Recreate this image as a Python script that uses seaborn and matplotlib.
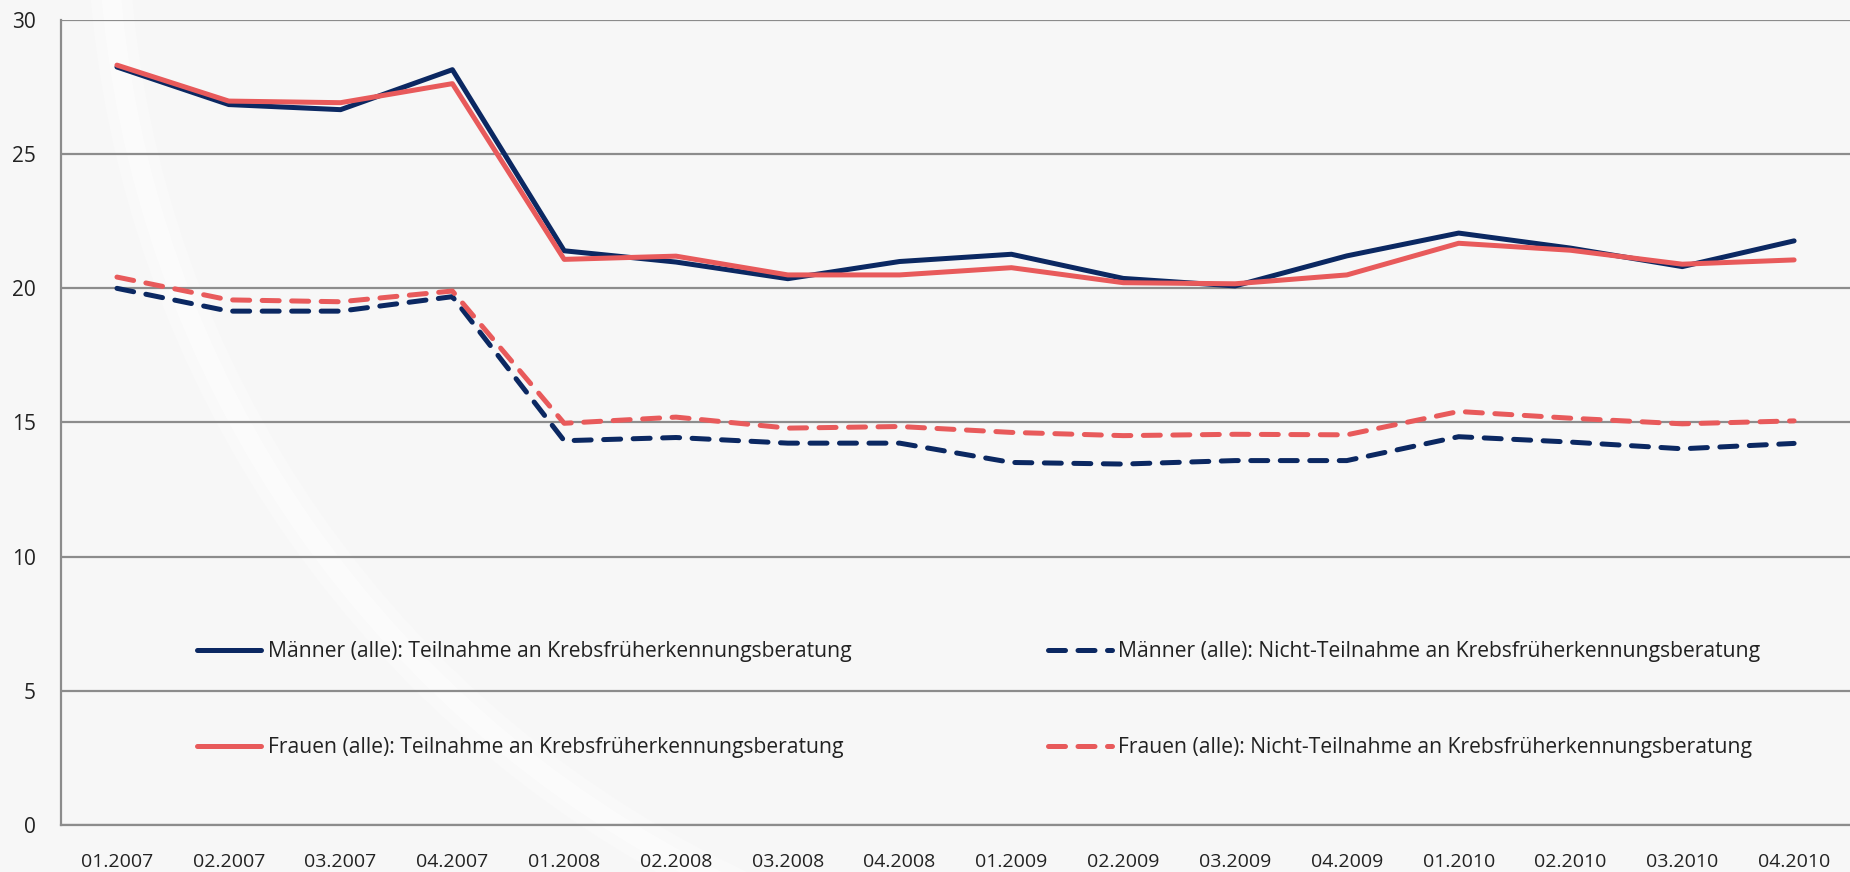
import matplotlib
matplotlib.use("Agg")
import matplotlib.pyplot as plt
from matplotlib.patches import Arc
import numpy as np
import pandas as pd
import seaborn as sns


QUARTERS = [
    "01.2007", "02.2007", "03.2007", "04.2007",
    "01.2008", "02.2008", "03.2008", "04.2008",
    "01.2009", "02.2009", "03.2009", "04.2009",
    "01.2010", "02.2010", "03.2010", "04.2010",
]

MEN_YES = [28.25, 26.85, 26.66, 28.15, 21.4, 20.98, 20.36, 21.0,
           21.27, 20.37, 20.09, 21.21, 22.06, 21.5, 20.81, 21.77]
WOMEN_YES = [28.32, 26.98, 26.92, 27.63, 21.08, 21.2, 20.5, 20.5,
             20.77, 20.21, 20.17, 20.5, 21.68, 21.42, 20.9, 21.06]
MEN_NO = [20.0, 19.15, 19.15, 19.69, 14.32, 14.44, 14.23, 14.23,
          13.51, 13.45, 13.58, 13.58, 14.47, 14.27, 14.02, 14.22]
WOMEN_NO = [20.42, 19.57, 19.5, 19.9, 14.97, 15.2, 14.79, 14.85,
            14.63, 14.51, 14.56, 14.54, 15.41, 15.16, 14.95, 15.06]

LABELS = [
    "Männer (alle): Teilnahme an Krebsfrüherkennungsberatung",
    "Frauen (alle): Teilnahme an Krebsfrüherkennungsberatung",
    "Männer (alle): Nicht-Teilnahme an Krebsfrüherkennungsberatung",
    "Frauen (alle): Nicht-Teilnahme an Krebsfrüherkennungsberatung",
]

NAVY = "#0b2862"
RED = "#e85a5b"
BG = "#f7f7f7"
GRID = "#8c8c8c"


def main() -> None:
    sns.set_theme(style="white")
    plt.rcParams["font.family"] = ["Open Sans", "DejaVu Sans"]

    series = [MEN_YES, WOMEN_YES, MEN_NO, WOMEN_NO]
    frames = []
    for label, values in zip(LABELS, series):
        frames.append(pd.DataFrame({"idx": np.arange(len(QUARTERS)), "value": values, "series": label}))
    df = pd.concat(frames, ignore_index=True)

    palette = {LABELS[0]: NAVY, LABELS[1]: RED, LABELS[2]: NAVY, LABELS[3]: RED}
    dashes = {LABELS[0]: "", LABELS[1]: "", LABELS[2]: (3.4, 2.5), LABELS[3]: (3.4, 2.5)}

    fig = plt.figure(figsize=(18.5, 8.72), dpi=100)
    fig.patch.set_facecolor(BG)

    # faint light swoosh in the background of the original slide (pixel coords)
    for lw, alpha in [(30, 0.25), (14, 0.45)]:
        swoosh = Arc((1200, 972), 2186, 2186, theta1=184, theta2=246, transform=None,
                     edgecolor="white", linewidth=lw, alpha=alpha, zorder=-5)
        fig.patches.append(swoosh)

    ax = fig.add_axes([0.033, 0.054, 0.967, 0.923])
    ax.set_facecolor("none")
    ax.set_zorder(1)

    sns.lineplot(
        data=df, x="idx", y="value", hue="series", style="series",
        palette=palette, dashes=dashes, linewidth=3.6, ax=ax,
        legend=False, solid_capstyle="round", dash_capstyle="round",
    )

    ax.set_xlim(-0.5, len(QUARTERS) - 0.5)
    ax.set_ylim(0, 30)
    ax.set_yticks(np.arange(0, 31, 5))
    ax.yaxis.grid(True, color=GRID, linewidth=1.6)
    ax.set_axisbelow(True)

    ax.set_xticks(np.arange(len(QUARTERS)))
    ax.set_xticklabels(QUARTERS)
    ax.set_xticks(np.arange(-0.5, len(QUARTERS)), minor=True)
    ax.tick_params(axis="x", which="major", length=0, pad=20, labelsize=14, colors="#222222")
    ax.tick_params(axis="x", which="minor", length=8, width=1.5, color=GRID, direction="out")
    ax.tick_params(axis="y", length=8, width=1.5, color=GRID, direction="out",
                   labelsize=15, pad=10, labelcolor="#222222")
    ax.set_xlabel("")
    ax.set_ylabel("")

    for side in ["top", "right"]:
        ax.spines[side].set_visible(False)
    for side in ["left", "bottom"]:
        ax.spines[side].set_color(GRID)
        ax.spines[side].set_linewidth(1.6)

    handles = ax.get_lines()[:4]
    ax.legend(
        handles, LABELS, ncol=2, frameon=False, loc="upper left",
        bbox_to_anchor=(0.0654, 0.252), fontsize=15.2, handlelength=3.05,
        handletextpad=0.3, labelspacing=3.55, columnspacing=9.3,
        labelcolor="#222222",
    )

    fig.savefig("out.png", dpi=100, facecolor=BG)
    plt.close(fig)


if __name__ == "__main__":
    main()
